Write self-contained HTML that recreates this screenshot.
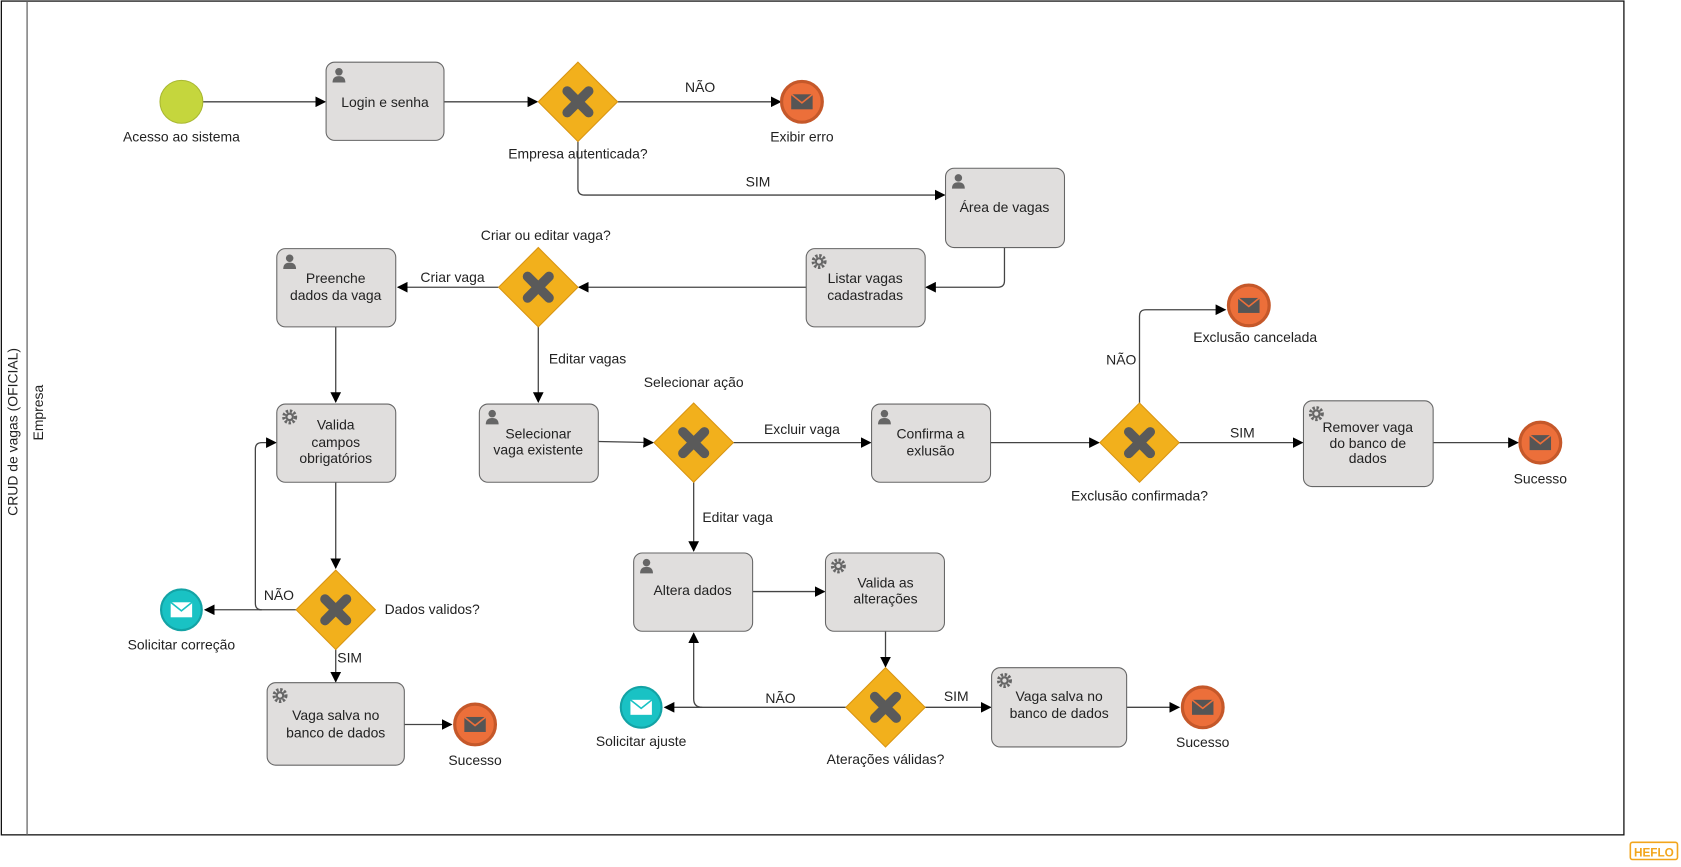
<!DOCTYPE html>
<html><head><meta charset="utf-8"><style>
html,body{margin:0;padding:0;background:#fff;}
svg{display:block;}
text{font-family:"Liberation Sans",sans-serif;font-size:13px;fill:#222;}
.t{fill:#e0dedd;stroke:#666;stroke-width:1;}
.l{fill:none;stroke:#444;stroke-width:1.2;}
.c{text-anchor:middle;}
</style></head><body>
<svg width="1681" height="867" viewBox="0 0 1568 809" xmlns="http://www.w3.org/2000/svg">
<defs>
<marker id="a" markerWidth="10" markerHeight="10" refX="9" refY="5" orient="auto" markerUnits="userSpaceOnUse"><path d="M0,0 L10,5 L0,10 z" fill="#000"/></marker>
<g id="gw"><path d="M0,-37 L37,0 L0,37 L-37,0 z" fill="#f2b01c" stroke="#d99512"/><path d="M-10,-10 L10,10 M10,-10 L-10,10" stroke="#5a5a5a" stroke-width="9" stroke-linecap="round"/></g>
<g id="eo"><circle r="19" fill="#ec6f3a" stroke="#c5582a" stroke-width="3"/><rect x="-10" y="-7" width="20" height="14" fill="#555"/><path d="M-10,-7 L0,1 L10,-7" fill="none" stroke="#ec6f3a" stroke-width="1.5"/></g>
<g id="et"><circle r="19" fill="#19c2c4" stroke="#13a3a5" stroke-width="2"/><rect x="-10" y="-7" width="20" height="14" fill="#fff"/><path d="M-10,-7 L0,1 L10,-7" fill="none" stroke="#19c2c4" stroke-width="1.5"/></g>
<g id="u"><circle cx="0" cy="-3" r="3.5" fill="#666"/><path d="M-6,7 Q-6,1 0,1 Q6,1 6,7 z" fill="#666"/></g>
<g id="g"><circle r="5.5" fill="none" stroke="#666" stroke-width="3" stroke-dasharray="2.2 1.5"/><circle r="3" fill="none" stroke="#666" stroke-width="2"/></g>
</defs>
<rect x="1" y="1" width="1514" height="778" fill="none" stroke="#111" stroke-width="1.2"/>
<line x1="25" y1="1" x2="25" y2="779" stroke="#666" stroke-width="1.2"/>
<text transform="translate(16,403) rotate(-90)" class="c">CRUD de vagas (OFICIAL)</text>
<text transform="translate(40,385) rotate(-90)" class="c">Empresa</text>
<text x="1543" y="799" class="c" style="font-weight:bold;fill:#f2a51c;font-size:11px">HEFLO</text>
<rect x="1521" y="786" width="44" height="16" rx="2" fill="none" stroke="#f2a51c" stroke-width="1.5"/>

<!-- connectors -->
<g class="l">
<path d="M189,95 L303,95" marker-end="url(#a)"/>
<path d="M414,95 L501,95" marker-end="url(#a)"/>
<path d="M576,95 L728,95" marker-end="url(#a)"/>
<path d="M539,132 L539,176 Q539,182 545,182 L881,182" marker-end="url(#a)"/>
<path d="M937,231 L937,262 Q937,268 931,268 L864,268" marker-end="url(#a)"/>
<path d="M752,268 L540,268" marker-end="url(#a)"/>
<path d="M465,268 L371,268" marker-end="url(#a)"/>
<path d="M502,305 L502,375" marker-end="url(#a)"/>
<path d="M313,305 L313,375" marker-end="url(#a)"/>
<path d="M558,412 L609,413" marker-end="url(#a)"/>
<path d="M684,413 L812,413" marker-end="url(#a)"/>
<path d="M924,413 L1025,413" marker-end="url(#a)"/>
<path d="M1063,376 L1063,295 Q1063,289 1069,289 L1143,289" marker-end="url(#a)"/>
<path d="M1100,413 L1215,413" marker-end="url(#a)"/>
<path d="M1337,413 L1416,413" marker-end="url(#a)"/>
<path d="M647,450 L647,514" marker-end="url(#a)"/>
<path d="M702,552 L769,552" marker-end="url(#a)"/>
<path d="M826,589 L826,622" marker-end="url(#a)"/>
<path d="M789,660 L620,660" marker-end="url(#a)"/>
<path d="M655,660 Q647,660 647,652 L647,591" marker-end="url(#a)"/>
<path d="M863,660 L924,660" marker-end="url(#a)"/>
<path d="M1051,660 L1100,660" marker-end="url(#a)"/>
<path d="M313,450 L313,530" marker-end="url(#a)"/>
<path d="M276,569 L191,569" marker-end="url(#a)"/>
<path d="M244,569 Q238,569 238,563 L238,419 Q238,413 244,413 L257,413" marker-end="url(#a)"/>
<path d="M313,606 L313,636" marker-end="url(#a)"/>
<path d="M377,676 L421,676" marker-end="url(#a)"/>
</g>

<!-- events -->
<circle cx="169" cy="95" r="20" fill="#c5d63d" stroke="#a9b832"/>
<text x="169" y="132" class="c">Acesso ao sistema</text>
<use href="#eo" x="748" y="95"/><text x="748" y="132" class="c">Exibir erro</text>
<use href="#eo" x="1165" y="285"/><text x="1171" y="319" class="c">Exclusão cancelada</text>
<use href="#eo" x="1437" y="413"/><text x="1437" y="451" class="c">Sucesso</text>
<use href="#eo" x="1122" y="660"/><text x="1122" y="697" class="c">Sucesso</text>
<use href="#eo" x="443" y="676"/><text x="443" y="714" class="c">Sucesso</text>
<use href="#et" x="598" y="660"/><text x="598" y="696" class="c">Solicitar ajuste</text>
<use href="#et" x="169" y="569"/><text x="169" y="606" class="c">Solicitar correção</text>

<!-- gateways -->
<use href="#gw" x="539" y="95"/><text x="539" y="148" class="c">Empresa autenticada?</text>
<use href="#gw" x="502" y="268"/><text x="509" y="224" class="c">Criar ou editar vaga?</text>
<use href="#gw" x="647" y="413"/><text x="647" y="361" class="c">Selecionar ação</text>
<use href="#gw" x="1063" y="413"/><text x="1063" y="467" class="c">Exclusão confirmada?</text>
<use href="#gw" x="826" y="660"/><text x="826" y="713" class="c">Aterações válidas?</text>
<use href="#gw" x="313" y="569"/><text x="403" y="573" class="c">Dados validos?</text>

<!-- labels -->
<text x="653" y="86" class="c">NÃO</text>
<text x="707" y="174" class="c">SIM</text>
<text x="422" y="263" class="c">Criar vaga</text>
<text x="548" y="339" class="c">Editar vagas</text>
<text x="748" y="405" class="c">Excluir vaga</text>
<text x="1046" y="340" class="c">NÃO</text>
<text x="1159" y="408" class="c">SIM</text>
<text x="688" y="487" class="c">Editar vaga</text>
<text x="728" y="656" class="c">NÃO</text>
<text x="892" y="654" class="c">SIM</text>
<text x="260" y="560" class="c">NÃO</text>
<text x="326" y="618" class="c">SIM</text>

<!-- tasks -->
<rect class="t" x="304" y="58" width="110" height="73" rx="8"/><use href="#u" x="316" y="70"/>
<text x="359" y="100" class="c">Login e senha</text>
<rect class="t" x="882" y="157" width="111" height="74" rx="8"/><use href="#u" x="894" y="169"/>
<text x="937" y="198" class="c">Área de vagas</text>
<rect class="t" x="752" y="232" width="111" height="73" rx="8"/><use href="#g" x="764" y="244"/>
<text x="807" y="264" class="c">Listar vagas</text><text x="807" y="280" class="c">cadastradas</text>
<rect class="t" x="258" y="232" width="111" height="73" rx="8"/><use href="#u" x="270" y="244"/>
<text x="313" y="264" class="c">Preenche</text><text x="313" y="280" class="c">dados da vaga</text>
<rect class="t" x="447" y="377" width="111" height="73" rx="8"/><use href="#u" x="459" y="389"/>
<text x="502" y="409" class="c">Selecionar</text><text x="502" y="424" class="c">vaga existente</text>
<rect class="t" x="813" y="377" width="111" height="73" rx="8"/><use href="#u" x="825" y="389"/>
<text x="868" y="409" class="c">Confirma a</text><text x="868" y="425" class="c">exlusão</text>
<rect class="t" x="1216" y="374" width="121" height="80" rx="8"/><use href="#g" x="1228" y="386"/>
<text x="1276" y="403" class="c">Remover vaga</text><text x="1276" y="418" class="c">do banco de</text><text x="1276" y="432" class="c">dados</text>
<rect class="t" x="591" y="516" width="111" height="73" rx="8"/><use href="#u" x="603" y="528"/>
<text x="646" y="555" class="c">Altera dados</text>
<rect class="t" x="770" y="516" width="111" height="73" rx="8"/><use href="#g" x="782" y="528"/>
<text x="826" y="548" class="c">Valida as</text><text x="826" y="563" class="c">alterações</text>
<rect class="t" x="925" y="623" width="126" height="74" rx="8"/><use href="#g" x="937" y="635"/>
<text x="988" y="654" class="c">Vaga salva no</text><text x="988" y="670" class="c">banco de dados</text>
<rect class="t" x="258" y="377" width="111" height="73" rx="8"/><use href="#g" x="270" y="389"/>
<text x="313" y="401" class="c">Valida</text><text x="313" y="417" class="c">campos</text><text x="313" y="432" class="c">obrigatórios</text>
<rect class="t" x="249" y="637" width="128" height="77" rx="8"/><use href="#g" x="261" y="649"/>
<text x="313" y="672" class="c">Vaga salva no</text><text x="313" y="688" class="c">banco de dados</text>
</svg>
</body></html>
